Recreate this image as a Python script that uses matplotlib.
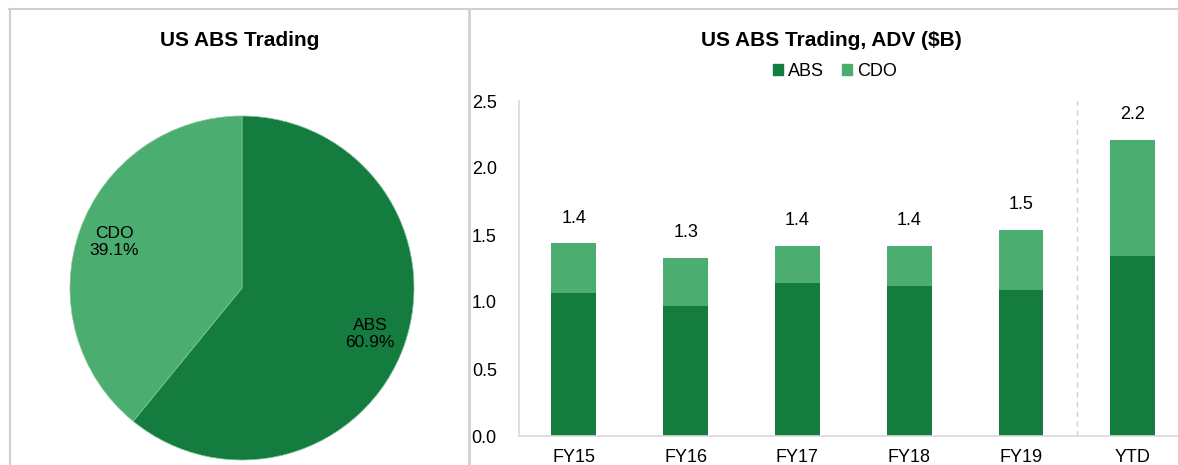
import matplotlib
matplotlib.use("Agg")
import matplotlib.pyplot as plt
from matplotlib.lines import Line2D
from matplotlib.patches import Patch

plt.rcParams['font.family'] = ['Liberation Sans', 'DejaVu Sans']

# Data
pie_labels = ["ABS", "CDO"]
pie_shares = [60.9, 39.1]

categories = ["FY15", "FY16", "FY17", "FY18", "FY19", "YTD"]
abs_vals = [1.07, 0.97, 1.14, 1.12, 1.09, 1.34]
cdo_vals = [0.37, 0.36, 0.28, 0.30, 0.45, 0.87]
total_labels = ["1.4", "1.3", "1.4", "1.4", "1.5", "2.2"]
y_ticks = [0.0, 0.5, 1.0, 1.5, 2.0, 2.5]

DARK = "#147C3E"
LIGHT = "#4BAD70"
GRID = "#D9D9D9"
FS = 13

W, H = 1178, 465
fig = plt.figure(figsize=(W / 100, H / 100), dpi=100)

# Frame lines
fig.add_artist(Line2D([9 / W, 1], [1 - 9.5 / H, 1 - 9.5 / H], color="#D0D0D0", lw=1.5))
fig.add_artist(Line2D([9.5 / W, 9.5 / W], [0, 1 - 9.5 / H], color="#D0D0D0", lw=1.5))
fig.add_artist(Line2D([469 / W, 469 / W], [0, 1 - 9.5 / H], color="#D0D0D0", lw=2))

# Pie
cx, cy, r = 242, 288, 172
axp = fig.add_axes([(cx - r) / W, (H - cy - r) / H, 2 * r / W, 2 * r / H])
wedges, texts = axp.pie(
    pie_shares,
    labels=[f"{n}\n{v:.1f}%" for n, v in zip(pie_labels, pie_shares)],
    colors=[DARK, LIGHT],
    startangle=90,
    counterclock=False,
    labeldistance=0.79,
    wedgeprops=dict(edgecolor="#7FC597", linewidth=0.5),
    textprops=dict(fontsize=12.5, color="black"),
)
for t in texts:
    t.set_ha("center")
    t.set_va("center")
    t.set_multialignment("center")
    t.set_linespacing(1.15)
axp.set_xlim(-1, 1)
axp.set_ylim(-1, 1)
axp.set_aspect("equal")
fig.text(240 / W, 1 - 40 / H, "US ABS Trading", ha="center", va="center",
         fontsize=15, fontweight="bold")

# Bars
spacing = 111.8
x_left = 519
xl0, xl1 = -0.49, 5.49
ax_w = (xl1 - xl0) * spacing
y0_px, y25_px = 436, 101
ax = fig.add_axes([x_left / W, (H - y0_px) / H, ax_w / W, (y0_px - y25_px) / H])
x = list(range(len(categories)))
ax.bar(x, abs_vals, width=0.4, color=DARK, label="ABS")
ax.bar(x, cdo_vals, width=0.4, bottom=abs_vals, color=LIGHT, label="CDO")
for xi, a, c, lab in zip(x, abs_vals, cdo_vals, total_labels):
    ax.annotate(lab, (xi, a + c), xytext=(0, 18), textcoords="offset points",
                ha="center", va="center", fontsize=FS)
ax.axvline(4.5, color="#D0D0D0", lw=1, ls=(0, (4, 3)))
ax.set_xlim(xl0, xl1)
ax.set_ylim(0, 2.5)
ax.set_yticks(y_ticks)
ax.set_yticklabels([f"{v:.1f}" for v in y_ticks])
ax.set_xticks(x)
ax.set_xticklabels(categories)
ax.tick_params(axis="both", length=0, labelsize=FS)
ax.tick_params(axis="y", pad=16)
ax.tick_params(axis="x", pad=9)
for s in ["top", "right"]:
    ax.spines[s].set_visible(False)
ax.spines["left"].set_color(GRID)
ax.spines["bottom"].set_color(GRID)
ax.spines["left"].set_linewidth(1.2)
ax.spines["bottom"].set_linewidth(1.2)

fig.text(831 / W, 1 - 40 / H, "US ABS Trading, ADV ($B)", ha="center", va="center",
         fontsize=15, fontweight="bold")
fig.legend(handles=[Patch(color=DARK, label="ABS"), Patch(color=LIGHT, label="CDO")],
           loc="center", bbox_to_anchor=(835 / W, 1 - 71 / H), ncol=2, frameon=False,
           fontsize=FS, handlelength=0.55, handleheight=0.55, handletextpad=0.3,
           columnspacing=1.0, borderpad=0)

fig.savefig("out.png", dpi=100)
